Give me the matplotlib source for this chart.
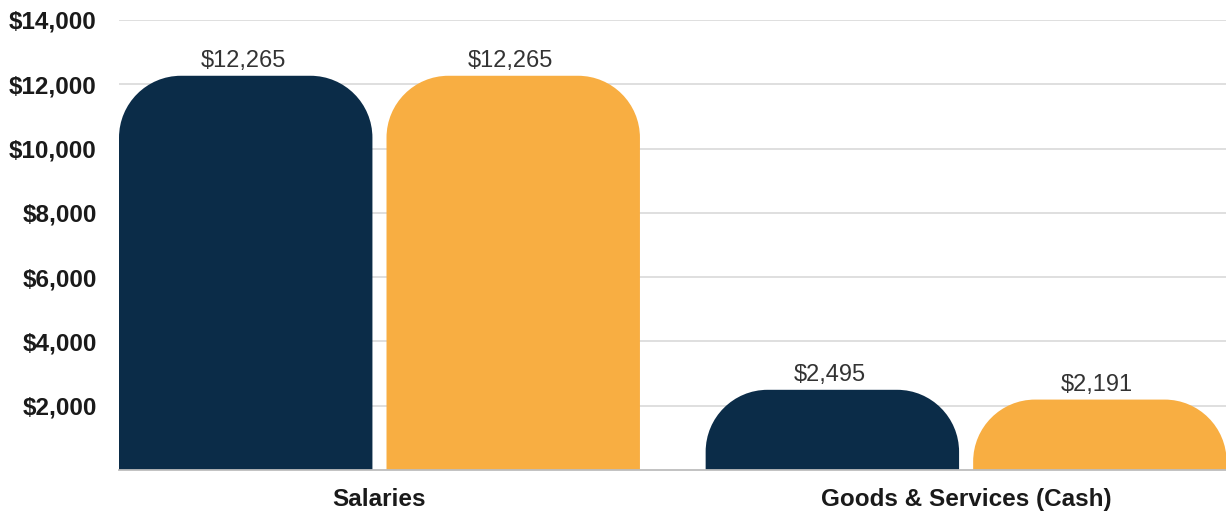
import numpy as np
import matplotlib
matplotlib.use("Agg")
import matplotlib.pyplot as plt
from matplotlib.path import Path
from matplotlib.patches import PathPatch
from matplotlib.ticker import FuncFormatter

plt.rcParams['font.family'] = ['Liberation Sans', 'DejaVu Sans']

categories = ['Salaries', 'Goods & Services (Cash)']
series_a = [12265, 2495]
series_b = [12265, 2191]
colors = ['#0b2c48', '#f8ae42']
yticks = [2000, 4000, 6000, 8000, 10000, 12000, 14000]

fig = plt.figure(figsize=(12.26, 5.19), dpi=100)
ax = fig.add_axes([119 / 1226, 49 / 519, 1107 / 1226, 450 / 519])

x = np.arange(len(categories))
offset = 0.228
width = 0.432

ax.set_xlim(-0.444, 1.443)
ax.set_ylim(0, 14000)

bars_a = ax.bar(x - offset, series_a, width, color=colors[0])
bars_b = ax.bar(x + offset, series_b, width, color=colors[1])

# swap the plain rectangles for ones with rounded top corners
corner_px = 62
bbox = ax.get_position()
ax_w_px = bbox.width * fig.get_figwidth() * fig.dpi
ax_h_px = bbox.height * fig.get_figheight() * fig.dpi
x0l, x1l = ax.get_xlim()
y0l, y1l = ax.get_ylim()
rx = corner_px * (x1l - x0l) / ax_w_px
ry_full = corner_px * (y1l - y0l) / ax_h_px
k = 0.5523


def rounded_top(rect):
    x0 = rect.get_x()
    w = rect.get_width()
    h = rect.get_height()
    x1 = x0 + w
    ry = min(ry_full, h)
    verts = [
        (x0, 0), (x0, h - ry),
        (x0, h - ry + k * ry), (x0 + rx - k * rx, h), (x0 + rx, h),
        (x1 - rx, h),
        (x1 - rx + k * rx, h), (x1, h - ry + k * ry), (x1, h - ry),
        (x1, 0), (x0, 0),
    ]
    codes = [Path.MOVETO, Path.LINETO,
             Path.CURVE4, Path.CURVE4, Path.CURVE4,
             Path.LINETO,
             Path.CURVE4, Path.CURVE4, Path.CURVE4,
             Path.LINETO, Path.CLOSEPOLY]
    return Path(verts, codes)


for bars in (bars_a, bars_b):
    for rect in bars:
        rect.set_visible(False)
        patch = PathPatch(rounded_top(rect), facecolor=rect.get_facecolor(),
                          edgecolor='none', zorder=3)
        ax.add_patch(patch)
        val = rect.get_height()
        ax.annotate(f"${val:,.0f}", (rect.get_x() + rect.get_width() / 2, val),
                    xytext=(-2, 6.5), textcoords='offset points',
                    ha='center', va='baseline', fontsize=17, color='#333333')

ax.set_yticks(yticks)
ax.yaxis.set_major_formatter(FuncFormatter(lambda v, p: f"${v:,.0f}"))
ax.set_xticks(x)
ax.set_xticklabels(categories)

ax.tick_params(axis='y', length=0, pad=16, labelsize=17.5, labelcolor='#1a1a1a')
ax.tick_params(axis='x', length=0, pad=13, labelsize=17.5, labelcolor='#1a1a1a')
for lab in ax.get_yticklabels() + ax.get_xticklabels():
    lab.set_fontweight('bold')

ax.grid(axis='y', color='#d9d9d9', linewidth=1.2, zorder=0)
ax.set_axisbelow(True)
for side in ('top', 'right', 'left'):
    ax.spines[side].set_visible(False)
ax.spines['bottom'].set_color('#bdbdbd')
ax.spines['bottom'].set_linewidth(1.3)
ax.spines['bottom'].set_zorder(4)

fig.savefig('out.png', dpi=100)
